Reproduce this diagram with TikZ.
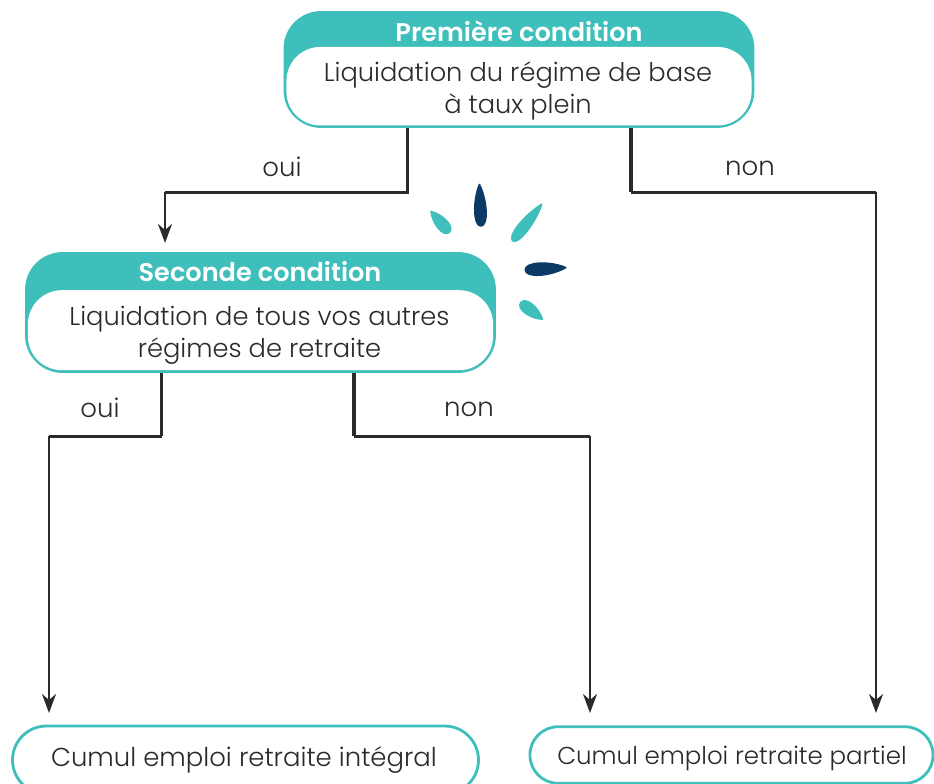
\documentclass[tikz,border=0pt]{standalone}
\usepackage{fontspec}
\setmainfont{Poppins}[UprightFont=* Light,BoldFont=* SemiBold]
\usetikzlibrary{arrows.meta,calc}
\definecolor{tealc}{HTML}{3FBFBB}
\definecolor{navyc}{HTML}{0B3A66}
\definecolor{inkc}{HTML}{2B2A2B}
\newcommand{\bladeshape}[4]{%
  \coordinate (T) at (#1); \coordinate (E) at (#2);
  \coordinate (P) at ($(T)!.4!(E)$);
  \coordinate (L) at ($(P)!#3pt!90:(E)$);
  \coordinate (R) at ($(P)!#3pt!-90:(E)$);
  \coordinate (EL) at ($(E)!#3pt!-90:(T)$);
  \coordinate (ER) at ($(E)!#3pt!90:(T)$);
  \filldraw[#4,line width=1.6pt,line join=round] (T) .. controls (L) and (EL) .. (E) .. controls (ER) and (R) .. (T) -- cycle;
}
\tikzset{
  x=1pt,y=-1pt,
  outerbox/.style={draw=tealc,fill=tealc,line width=2.8pt,rounded corners=36pt,minimum width=#1,inner sep=0pt},
  innerbox/.style={fill=white,rounded corners=34pt,inner sep=0pt,minimum width=#1},
  bodytxt/.style={font=\fontsize{25.7}{32}\selectfont,text=inkc,align=center,inner sep=0pt},
  headtxt/.style={text=white,font=\fontsize{25.6}{30}\selectfont\bfseries,inner sep=0pt},
  lab/.style={text=inkc,font=\fontsize{26}{30}\selectfont,inner sep=0pt},
  endbox/.style={draw=tealc,fill=white,line width=2.8pt,inner sep=0pt},
  conna/.style={draw=inkc,line width=3pt},
  connb/.style={draw=inkc,line width=2pt,-{Stealth[length=19pt,width=14pt,inset=6pt]}},
}
\begin{document}
\begin{tikzpicture}
\useasboundingbox (0,0) rectangle (934,784);
\clip (0,0) rectangle (934,784);
% top box
\node[outerbox=468pt,minimum height=114pt] (c1) at (519,69.5) {};
\node[innerbox=465.2pt,minimum height=78.5pt] (c1b) at (519,86.2) {};
\node[bodytxt] (c1t) at (518,91) {Liquidation du régime de base\\à taux plein};
\node[headtxt] (c1h) at (519,31) {Première condition};
% second box
\node[outerbox=468pt,minimum height=118pt] (c2) at (260.5,312.5) {};
\node[innerbox=465.2pt,minimum height=80pt] (c2b) at (260.5,330.2) {};
\node[bodytxt] (c2t) at (259.5,335) {Liquidation de tous vos autres\\régimes de retraite};
\node[headtxt] (c2h) at (260,272) {Seconde condition};
% end boxes
\node[endbox,rounded corners=34pt,minimum width=466pt,minimum height=68pt] (e1) at (245.5,760) {};
\node[text=inkc,font=\fontsize{25.9}{30}\selectfont,inner sep=0pt] (e1t) at (244,760) {Cumul emploi retraite intégral};
\node[endbox,rounded corners=28pt,minimum width=403pt,minimum height=56.5pt] (e2) at (731.5,755) {};
\node[text=inkc,font=\fontsize{24.5}{30}\selectfont,inner sep=0pt] (e2t) at (732,758) {Cumul emploi retraite partiel};
% labels
\node[lab] (l1) at (282,167) {oui};
\node[lab] (l2) at (750,168) {non};
\node[lab] (l3) at (100,408) {oui};
\node[lab] (l4) at (469,409) {non};
% routing points
\coordinate (a1) at (407,192);
\coordinate (a2) at (165,192);
\coordinate (a3) at (165,243);
\coordinate (b1) at (631,192);
\coordinate (b2) at (876,192);
\coordinate (b3) at (876,713);
\coordinate (d1) at (161.5,436);
\coordinate (d2) at (49,436);
\coordinate (d3) at (49,713);
\coordinate (f1) at (354,436);
\coordinate (f2) at (590,436);
\coordinate (f3) at (590,713);
% connectors
\draw[conna,line cap=square] (c1.south -| a1) -- (a1) -- (a2);
\draw[connb] (a2) -- (a3);
\draw[conna,line width=3.5pt] (c1.south -| b1) -- (b1);
\draw[conna,line cap=square] (b1) -- (b2);
\draw[connb] (b2) -- (b3);
\draw[conna,line width=3.5pt] (c2.south -| d1) -- (d1);
\draw[conna,line cap=square] (d1) -- (d2);
\draw[connb] (d2) -- (d3);
\draw[conna,line width=3.5pt] (c2.south -| f1) -- (f1);
\draw[conna,line cap=square] (f1) -- (f2);
\draw[connb] (f2) -- (f3);
% sparks
\bladeshape{431,211.5}{449.3,232.3}{7.5}{tealc}
\bladeshape{479.4,184.5}{481,226}{7.5}{navyc}
\bladeshape{541.7,204.3}{512.6,240.8}{7}{tealc}
\bladeshape{565.7,267.6}{525.3,270}{8}{navyc}
\bladeshape{542.4,319.2}{520.8,302.6}{7.5}{tealc}
\end{tikzpicture}
\end{document}
